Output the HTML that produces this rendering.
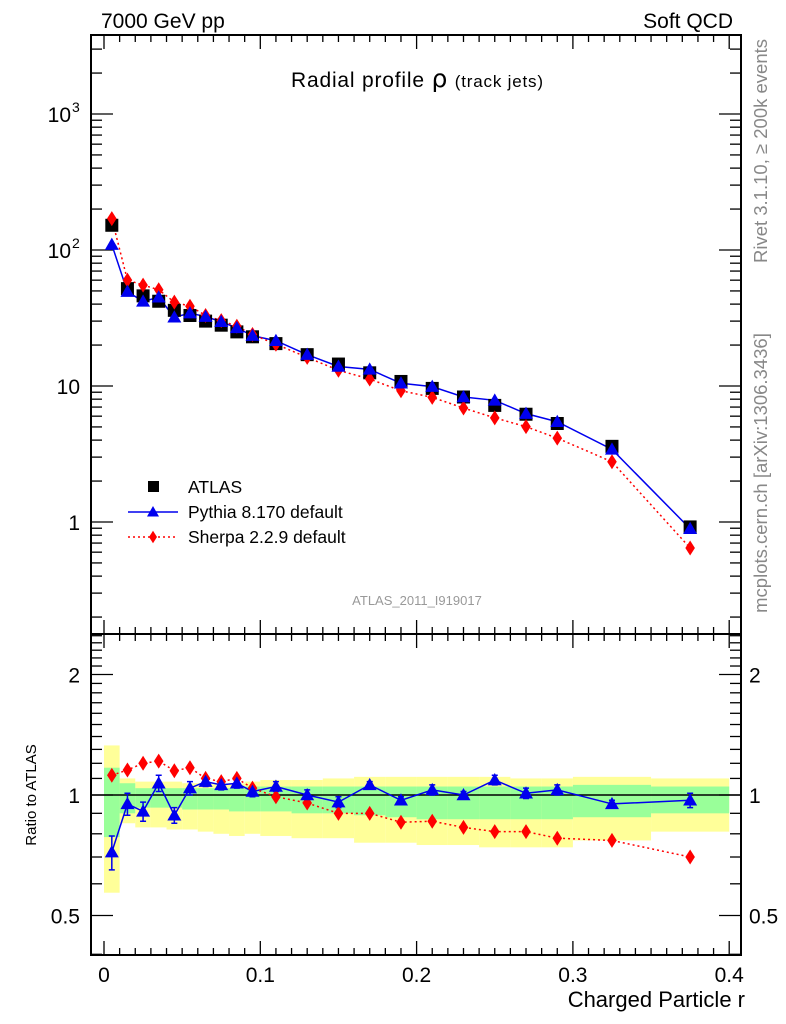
<!DOCTYPE html>
<html><head><meta charset="utf-8"><style>
html,body{margin:0;padding:0;background:#fff;}
svg{display:block;font-family:"Liberation Sans",sans-serif;}
</style></head><body>
<svg id="c" width="786" height="1024" viewBox="0 0 786 1024"></svg>
<script>
const rCenters=[0.005,0.015,0.025,0.035,0.045,0.055,0.065,0.075,0.085,0.095,0.11,0.13,0.15,0.17,0.19,0.21,0.23,0.25,0.27,0.29,0.325,0.375];
const binEdges=[0,0.01,0.02,0.03,0.04,0.05,0.06,0.07,0.08,0.09,0.1,0.12,0.14,0.16,0.18,0.2,0.22,0.24,0.26,0.28,0.3,0.35,0.4];
const atlasValues=[152,52,46,42,36,33,30,28,25,23,20.5,17,14.5,12.5,10.8,9.6,8.3,7.2,6.2,5.3,3.6,0.92];
const pythiaRatio=[0.72,0.95,0.91,1.07,0.89,1.04,1.08,1.06,1.07,1.02,1.05,1.00,0.96,1.06,0.97,1.03,1.00,1.09,1.01,1.03,0.95,0.97];
const pythiaErr=[0.07,0.06,0.05,0.05,0.04,0.04,0.03,0.03,0.03,0.03,0.03,0.03,0.03,0.02,0.02,0.03,0.02,0.03,0.03,0.03,0.02,0.04];
const sherpaRatio=[1.12,1.155,1.20,1.215,1.15,1.17,1.10,1.08,1.10,1.04,0.99,0.955,0.90,0.90,0.855,0.86,0.83,0.81,0.81,0.78,0.77,0.70];
const totLo=[0.57,0.85,0.83,0.83,0.82,0.82,0.81,0.80,0.79,0.80,0.79,0.78,0.78,0.76,0.76,0.75,0.75,0.74,0.74,0.74,0.77,0.81];
const totHi=[1.33,1.10,1.08,1.08,1.08,1.07,1.07,1.07,1.07,1.08,1.09,1.09,1.10,1.11,1.11,1.11,1.11,1.11,1.10,1.10,1.11,1.10];
const statLo=[0.785,0.90,0.93,0.93,0.93,0.92,0.92,0.92,0.91,0.91,0.91,0.90,0.90,0.89,0.88,0.87,0.87,0.87,0.87,0.87,0.88,0.90];
const statHi=[1.17,1.07,1.04,1.04,1.04,1.04,1.04,1.04,1.04,1.05,1.05,1.05,1.05,1.05,1.05,1.05,1.05,1.05,1.05,1.05,1.06,1.05];
const xTicks=[0,0.1,0.2,0.3,0.4];
const xTickLabels=["0","0.1","0.2","0.3","0.4"];

const svg=document.getElementById('c');
const NS='http://www.w3.org/2000/svg';
function mk(tag,attrs,parent){const e=document.createElementNS(NS,tag);for(const k in attrs)e.setAttribute(k,attrs[k]);(parent||svg).appendChild(e);return e;}
const L=91,R=741,T1=35,B1=634,T2=634,B2=955;
const X=r=>104+1563*r;
const Y1=v=>522-136*Math.log10(v);
const Y2=v=>795-120.5*Math.log2(v);

for(let i=0;i<rCenters.length;i++){
  let e=mk('rect',{x:X(binEdges[i]),y:Y2(totHi[i]),width:X(binEdges[i+1])-X(binEdges[i]),height:Y2(totLo[i])-Y2(totHi[i]),fill:'#ffff99'});
  
  
}
for(let i=0;i<rCenters.length;i++){
  let e=mk('rect',{x:X(binEdges[i]),y:Y2(statHi[i]),width:X(binEdges[i+1])-X(binEdges[i]),height:Y2(statLo[i])-Y2(statHi[i]),fill:'#99ff99'});
  
  
}
mk('line',{x1:L,x2:R,y1:Y2(1),y2:Y2(1),stroke:'#000','stroke-width':1.5});

let f1=mk('rect',{x:L,y:T1,width:R-L,height:B1-T1,fill:'none',stroke:'#000','stroke-width':2});

let f2=mk('rect',{x:L,y:T2,width:R-L,height:B2-T2,fill:'none',stroke:'#000','stroke-width':2});


for(let k=0;k<=40;k++){
  const x=X(k/100),len=(k%10==0)?14:7;
  for(const [a,b] of [[T1,1],[B1,-1],[T2,1],[B2,-1]]){
    mk('line',{x1:x,x2:x,y1:a,y2:a+b*len,stroke:'#000','stroke-width':1.3});
  }
}
xTicks.forEach((t,i)=>{let e=mk('text',{x:X(t),y:982,'font-size':21,'text-anchor':'middle'});e.textContent=xTickLabels[i];
});

for(let d=-1;d<=3;d++){for(let m=1;m<=9;m++){const v=m*Math.pow(10,d);const y=Y1(v);if(y<T1||y>B1)continue;const len=m==1?22:11;
  mk('line',{x1:L,x2:L+len,y1:y,y2:y,stroke:'#000','stroke-width':1.3});
  mk('line',{x1:R,x2:R-len,y1:y,y2:y,stroke:'#000','stroke-width':1.3});}}
[['1',1],['10',10],['10',100],['10',1000]].forEach(([t,v],i)=>{
  let e=mk('text',{x:i>=2?71:80,y:Y1(v)+8,'font-size':21,'text-anchor':'end'});e.textContent=t;
  
  if(i>=2){let s=mk('text',{x:72,y:Y1(v)-2,'font-size':14});s.textContent=i==2?'2':'3';}
});
for(let v=0.4;v<=2.55;v+=0.1){const y=Y2(v);if(y<T2||y>B2)continue;
  const major=Math.abs(v-0.5)<1e-6||Math.abs(v-1)<1e-6||Math.abs(v-2)<1e-6;const len=major?22:11;
  mk('line',{x1:L,x2:L+len,y1:y,y2:y,stroke:'#000','stroke-width':1.3});
  mk('line',{x1:R,x2:R-len,y1:y,y2:y,stroke:'#000','stroke-width':1.3});}
[['0.5',0.5],['1',1],['2',2]].forEach(([t,v])=>{
  let e=mk('text',{x:80,y:Y2(v)+8,'font-size':21,'text-anchor':'end'});e.textContent=t;
  
  let e2=mk('text',{x:749,y:Y2(v)+8,'font-size':21});e2.textContent=t;
  
});

function tri(x,y,c,s){return mk('path',{d:`M${x} ${y-s} L${x+s} ${y+s*0.75} L${x-s} ${y+s*0.75}Z`,fill:c});}
function dia(x,y,c,s){return mk('path',{d:`M${x} ${y-s*1.25} L${x+s*0.8} ${y} L${x} ${y+s*1.25} L${x-s*0.8} ${y}Z`,fill:c});}

const pVals=atlasValues.map((a,i)=>a*pythiaRatio[i]);
const sVals=atlasValues.map((a,i)=>a*sherpaRatio[i]);
let pl=mk('polyline',{points:rCenters.map((r,i)=>X(r)+','+Y1(pVals[i])).join(' '),fill:'none',stroke:'#0000ee','stroke-width':1.5});

let sl=mk('polyline',{points:rCenters.map((r,i)=>X(r)+','+Y1(sVals[i])).join(' '),fill:'none',stroke:'#ff0000','stroke-width':1.5,'stroke-dasharray':'2,3'});

rCenters.forEach((r,i)=>{
  let a=mk('rect',{x:X(r)-6.5,y:Y1(atlasValues[i])-6.5,width:13,height:13,fill:'#000'});
  
  let s=dia(X(r),Y1(sVals[i]),'#ff0000',6);
  
  let p=tri(X(r),Y1(pVals[i]),'#0000ee',7);
  
});
let pr=mk('polyline',{points:rCenters.map((r,i)=>X(r)+','+Y2(pythiaRatio[i])).join(' '),fill:'none',stroke:'#0000ee','stroke-width':1.5});

let sr=mk('polyline',{points:rCenters.map((r,i)=>X(r)+','+Y2(sherpaRatio[i])).join(' '),fill:'none',stroke:'#ff0000','stroke-width':1.5,'stroke-dasharray':'2,3'});

rCenters.forEach((r,i)=>{
  const x=X(r),y1=Y2(pythiaRatio[i]+pythiaErr[i]),y2=Y2(pythiaRatio[i]-pythiaErr[i]);
  mk('path',{d:`M${x} ${y1}V${y2}M${x-3} ${y1}H${x+3}M${x-3} ${y2}H${x+3}`,stroke:'#0000ee','stroke-width':1.5,fill:'none'});
  let s=dia(x,Y2(sherpaRatio[i]),'#ff0000',6);
  
  let p=tri(x,Y2(pythiaRatio[i]),'#0000ee',7);
  
});

let lg=mk('g',{});
mk('rect',{x:148,y:481,width:11,height:11,fill:'#000'},lg);
mk('line',{x1:128,x2:178,y1:512,y2:512,stroke:'#0000ee','stroke-width':1.5},lg);
tri(153,512,'#0000ee',6);
mk('line',{x1:128,x2:178,y1:537,y2:537,stroke:'#ff0000','stroke-width':1.5,'stroke-dasharray':'2,3'},lg);
dia(153,537,'#ff0000',5);
[['ATLAS',493],['Pythia 8.170 default',518],['Sherpa 2.2.9 default',543]].forEach(([t,y])=>{
  let e=mk('text',{x:188,y:y,'font-size':17.5},lg);e.textContent=t;
  
});
</script>
<svg style="position:absolute;left:0;top:0" width="786" height="1024">
<text x="101" y="28" font-size="21" font-family="Liberation Sans,sans-serif">7000 GeV pp</text>
<text x="733" y="28" font-size="21" text-anchor="end" font-family="Liberation Sans,sans-serif">Soft QCD</text>
<text x="291" y="87" font-size="21" textLength="252" lengthAdjust="spacing" font-family="Liberation Sans,sans-serif">Radial profile <tspan font-size="25" font-family="DejaVu Sans,sans-serif">ρ</tspan> <tspan font-size="17">(track jets)</tspan></text>
<text x="417" y="605" font-size="13" fill="#999" text-anchor="middle" font-family="Liberation Sans,sans-serif">ATLAS_2011_I919017</text>
<text transform="translate(767,151) rotate(-90)" font-size="18.5" fill="#888" text-anchor="middle" font-family="Liberation Sans,sans-serif">Rivet 3.1.10, ≥ 200k events</text>
<text transform="translate(767,473) rotate(-90)" font-size="18.5" fill="#888" text-anchor="middle" font-family="Liberation Sans,sans-serif">mcplots.cern.ch [arXiv:1306.3436]</text>
<text transform="translate(36,795) rotate(-90)" font-size="15" text-anchor="middle" font-family="Liberation Sans,sans-serif">Ratio to ATLAS</text>
<text x="745" y="1007" font-size="22" text-anchor="end" font-family="Liberation Sans,sans-serif">Charged Particle r</text>
</svg>
</body></html>
